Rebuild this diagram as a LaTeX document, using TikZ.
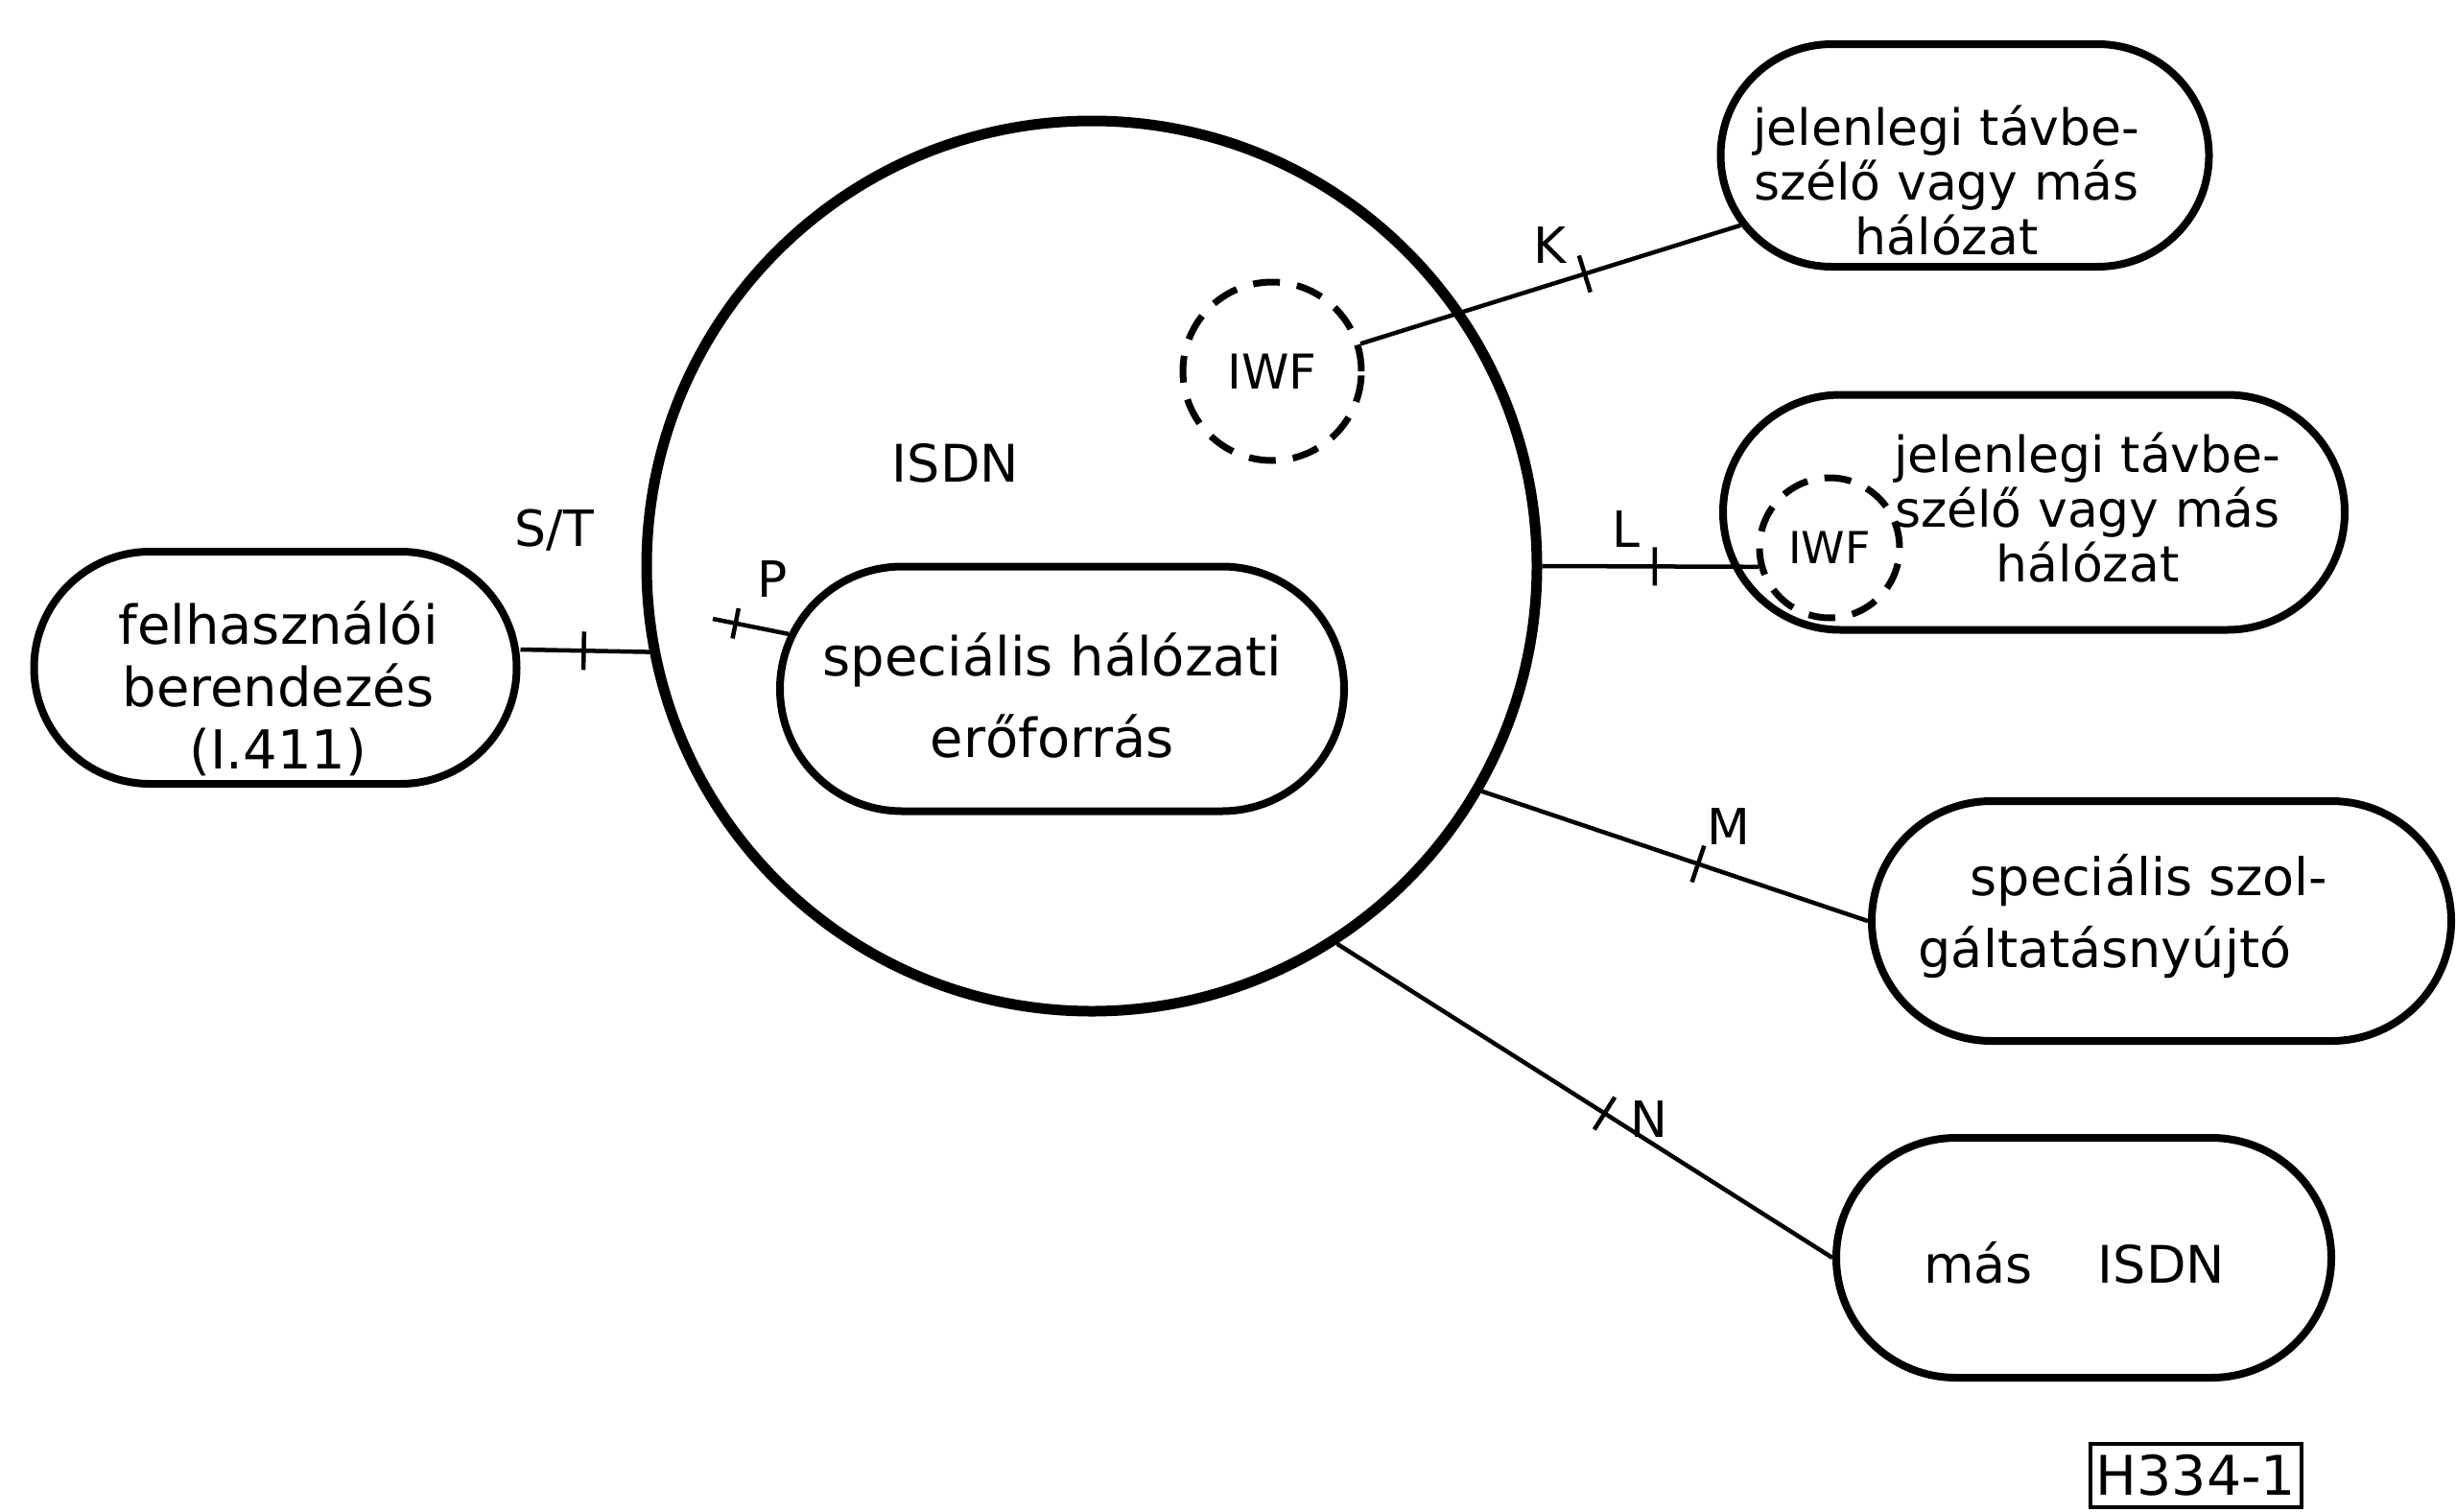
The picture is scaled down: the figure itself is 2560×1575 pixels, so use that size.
\documentclass[tikz,border=0pt]{standalone}
\usepackage{fontspec}
\setmainfont{DejaVu Sans}
\usetikzlibrary{shapes.misc}
\begin{document}
\begin{tikzpicture}[x=1pt,y=-1pt,
  every node/.style={font=\fontsize{54}{62}\selectfont},
  box/.style={draw, shape=rounded rectangle, line width=8pt, inner sep=0pt},
  conn/.style={line width=4.5pt},
  tickmark/.style={draw, line width=4.5pt, shape=rectangle, minimum width=0pt, minimum height=40pt, inner sep=0pt, sloped},
  iwfc/.style={draw, circle, line width=7pt, dash pattern=on 28pt off 18pt, inner sep=0pt},
  lbl/.style={inner sep=0pt, font=\fontsize{52}{60}\selectfont},
  txt/.style={align=center, inner sep=0pt}]
\useasboundingbox (0,0) rectangle (2560,1575);

% main ISDN circle
\node[circle, draw, line width=11pt, minimum size=928pt, inner sep=0pt] (isdn) at (1138,590) {};
\node[lbl, font=\fontsize{54}{60}\selectfont] (isdnlbl) at (996,483) {ISDN};

% boxes
\node[box, minimum width=503pt, minimum height=242pt] (ue) at (287,696) {};
\node[txt, font=\fontsize{56}{65}\selectfont] (uetxt) at (290,718) {felhasználói\\berendezés\\(I.411)};

\node[box, minimum width=588pt, minimum height=255pt] (spec1) at (1107,718) {};
\node[txt, font=\fontsize{56}{85}\selectfont] (spec1txt) at (1097,725) {speciális hálózati\\erőforrás};

\node[iwfc, minimum size=186pt, font=\fontsize{50}{60}\selectfont] (iwf1) at (1326,387) {IWF};

\node[box, minimum width=509pt, minimum height=232pt] (tel1) at (2048,162) {};
\node[txt, font=\fontsize{52}{57}\selectfont] (tel1txt) at (2029,188) {jelenlegi távbe-\\szélő vagy más\\hálózat};

\node[box, minimum width=648pt, minimum height=245pt] (tel2) at (2120,534) {};
\node[iwfc, minimum size=146pt, font=\fontsize{46}{56}\selectfont] (iwf2) at (1907,571) {IWF};
\node[txt, font=\fontsize{52}{57}\selectfont] (tel2txt) at (2176,529) {jelenlegi távbe-\\szélő vagy más\\hálózat};

\node[box, minimum width=604pt, minimum height=250pt] (spec2) at (2253,960) {};
\node[txt, align=left, font=\fontsize{54}{75}\selectfont] (spec2txt) at (2213,955) {\hspace*{54pt}speciális szol-\\gáltatásnyújtó};

\node[box, minimum width=516pt, minimum height=250pt] (mas) at (2172,1311) {};
\node[txt] (mastxt) at (2162,1316) {más\hspace{68pt}ISDN};

\node[draw, line width=3.5pt, inner sep=0pt, minimum width=220pt, minimum height=66pt, font=\fontsize{57}{62}\selectfont] (code) at (2289,1538) {H334-1};

% connectors
\draw[conn] ([yshift=19pt]ue.east) -- (isdn.191) node[tickmark, pos=0.49] (tST) {};
\coordinate (pfree) at (743,645);
\draw[conn] (pfree) -- (spec1) node[tickmark, pos=0.3, minimum height=32pt] (tP) {};
\draw[conn] (iwf1) -- (tel1) node[tickmark, pos=0.59] (tK) {};
\draw[conn] (isdn.0) -- (iwf2.195) node[tickmark, pos=0.52] (tL) {};
\draw[conn] (isdn.-30) -- (spec2.west) node[tickmark, pos=0.56] (tM) {};
\draw[conn] (isdn.-57) -- (mas.west) node[tickmark, pos=0.54] (tN) {};

% interface labels
\node[lbl] (lST) at (578,553) {S/T};
\node[lbl] (lP) at (805,604) {P};
\node[lbl] (lK) at (1616,256) {K};
\node[lbl] (lL) at (1695,552) {L};
\node[lbl] (lM) at (1802,862) {M};
\node[lbl] (lN) at (1719,1167) {N};
\end{tikzpicture}
\end{document}
